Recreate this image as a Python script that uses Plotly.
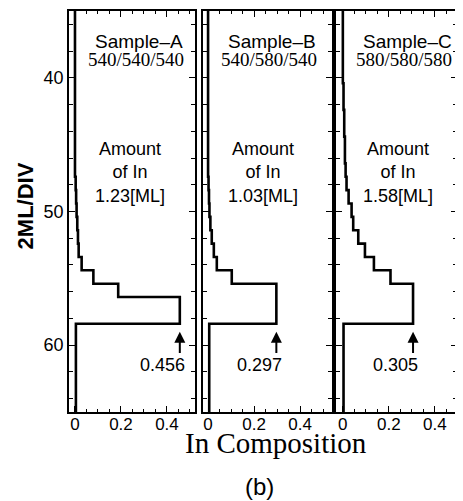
import plotly.graph_objects as go

# ---- data ----
sample_names = ["Sample–A", "Sample–B", "Sample–C"]
growth_temps = ["540/540/540", "540/580/540", "580/580/580"]
amount_in = ["1.23[ML]", "1.03[ML]", "1.58[ML]"]
peak_labels = ["0.456", "0.297", "0.305"]

layer_edges_A = [35.0, 47.4, 48.4, 49.4, 50.4, 51.4, 52.4, 53.4, 54.4, 55.4, 56.4, 58.4, 65.0]
comp_A = [0.0, 0.003, 0.005, 0.007, 0.010, 0.013, 0.016, 0.029, 0.080, 0.188, 0.456, 0.004]

layer_edges_B = [35.0, 47.4, 48.4, 49.4, 50.4, 51.4, 52.4, 53.4, 54.4, 55.4, 58.4, 65.0]
comp_B = [0.0, 0.002, 0.004, 0.006, 0.010, 0.016, 0.025, 0.038, 0.103, 0.297, 0.005]

layer_edges_C = [35.0, 40.4, 42.4, 44.4, 46.4, 47.4, 48.4, 49.4, 50.4, 51.4, 52.4, 53.4, 54.4, 55.4, 58.4, 65.0]
comp_C = [0.0, 0.003, 0.006, 0.009, 0.012, 0.016, 0.025, 0.038, 0.045, 0.067, 0.096, 0.135, 0.207, 0.305, 0.003]

y_tick_vals = [40, 50, 60]
x_tick_vals = [0, 0.2, 0.4]
x_tick_text = ["0", "0.2", "0.4"]

peak_values = [0.456, 0.297, 0.305]

# ---- layout helpers ----
domains = [[0.0, 0.3247], [0.3454, 0.6778], [0.688, 1.0]]
x_ranges = [[-0.026, 0.522], [-0.022, 0.539], [-0.030, 0.496]]
y_range = [65, 35]

SANS = "Liberation Sans, Arial, Helvetica, sans-serif"
SERIF = "Liberation Serif, Times New Roman, serif"

fig = go.Figure()
profiles = [(layer_edges_A, comp_A), (layer_edges_B, comp_B), (layer_edges_C, comp_C)]
for i, (edges, comp) in enumerate(profiles):
    xs = list(comp) + [comp[-1]]
    ys = list(edges)
    fig.add_trace(go.Scatter(
        x=xs, y=ys, mode="lines", line=dict(color="black", width=2.6, shape="vh"),
        xaxis="x" if i == 0 else f"x{i+1}", yaxis="y" if i == 0 else f"y{i+1}",
        showlegend=False, hoverinfo="skip"))

# page body has an 8px margin, so the figure is drawn 8px smaller and offset
layout = dict(
    width=455, height=493,
    margin=dict(l=61, r=6, t=3, b=89, autoexpand=False),
    paper_bgcolor="white", plot_bgcolor="white",
    showlegend=False,
    font=dict(family=SANS, color="black"),
)
for i in range(3):
    xk = "xaxis" if i == 0 else f"xaxis{i+1}"
    yk = "yaxis" if i == 0 else f"yaxis{i+1}"
    layout[xk] = dict(
        domain=domains[i], range=x_ranges[i], anchor="y" if i == 0 else f"y{i+1}",
        tickvals=x_tick_vals, ticktext=x_tick_text, ticks="inside", ticklen=6,
        tickwidth=1.2, tickcolor="black", automargin=False, ticklabelstandoff=-4,
        minor=dict(dtick=0.05, tick0=0, ticks="inside", ticklen=3, tickcolor="black", showgrid=False),
        showline=True, linecolor="black", linewidth=1.5, mirror="ticks",
        showgrid=False, zeroline=False,
        tickfont=dict(size=17, family=SANS, color="black"),
    )
    layout[yk] = dict(
        domain=[0, 1], range=y_range, anchor="x" if i == 0 else f"x{i+1}",
        tickvals=y_tick_vals, ticks="inside", ticklen=6, tickwidth=1.2, tickcolor="black",
        automargin=False,
        minor=dict(dtick=2, tick0=0, ticks="inside", ticklen=4, tickcolor="black", showgrid=False),
        showline=True, linecolor="black", linewidth=1.5, mirror="ticks",
        showgrid=False, zeroline=False, showticklabels=(i == 0),
        tickfont=dict(size=18, family=SANS, color="black"),
    )
fig.update_layout(**layout)

annotations = []
for i in range(3):
    xr = "x" if i == 0 else f"x{i+1}"
    yr = "y" if i == 0 else f"y{i+1}"
    annotations.append(dict(x=0.28, y=37.3, xref=xr, yref=yr, text=sample_names[i],
                            showarrow=False, font=dict(size=19, family=SANS, color="black")))
    annotations.append(dict(x=0.265, y=38.65, xref=xr, yref=yr, text=growth_temps[i],
                            showarrow=False, font=dict(size=19, family=SERIF, color="black")))
    annotations.append(dict(x=0.24, y=47.1, xref=xr, yref=yr,
                            text="Amount<br>of In<br>" + amount_in[i],
                            showarrow=False, font=dict(size=18, family=SANS, color="black")))
    pv = peak_values[i]
    annotations.append(dict(x=pv, y=59.0, xref=xr, yref=yr, ax=pv, ay=60.7,
                            axref=xr, ayref=yr, text="", showarrow=True,
                            arrowhead=2, arrowsize=1.1, arrowwidth=2, arrowcolor="black"))
    annotations.append(dict(x=pv - 0.075, y=61.45, xref=xr, yref=yr, text=peak_labels[i],
                            showarrow=False, font=dict(size=18, family=SANS, color="black")))

annotations.append(dict(x=-0.112, y=0.514, xref="paper", yref="paper", text="<b>2ML/DIV</b>",
                        textangle=-90, showarrow=False, xanchor="center", yanchor="middle",
                        font=dict(size=22, family=SANS, color="black")))
annotations.append(dict(x=0.534, y=-0.0773, xref="paper", yref="paper", text="In Composition",
                        showarrow=False, xanchor="center", yanchor="middle",
                        font=dict(size=29, family=SERIF, color="black")))
annotations.append(dict(x=0.49, y=-0.187, xref="paper", yref="paper", text="(b)",
                        showarrow=False, xanchor="center", yanchor="middle",
                        font=dict(size=24, family=SANS, color="black")))
fig.update_layout(annotations=annotations)

fig.write_html("out.html")
